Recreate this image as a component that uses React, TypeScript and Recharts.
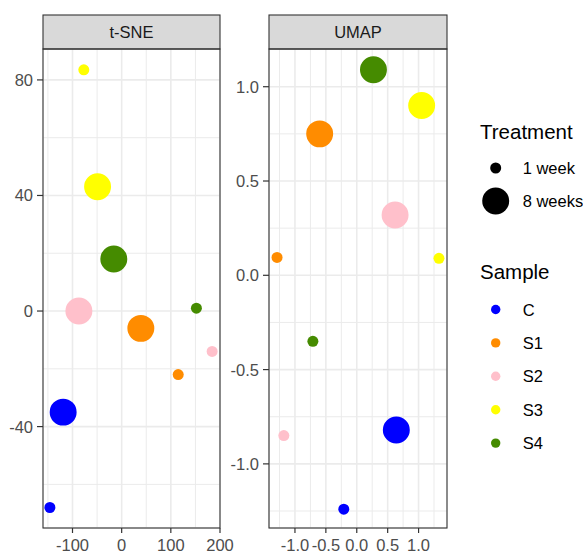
import React from "react";
import {CartesianGrid, Cell, Scatter, ScatterChart, XAxis, YAxis, ZAxis} from "recharts";

const samples = ['C', 'S1', 'S2', 'S3', 'S4'];
const treatments = ['1 week', '8 weeks'];
const treatmentWeeks = [1, 8];

// coordinates per sample, in the order of `samples`
const tsneX1w = [-146, 115, 184, -77, 152];
const tsneY1w = [-68, -22, -14, 83.5, 1];
const tsneX8w = [-119, 39, -87, -49, -16];
const tsneY8w = [-35, -6, 0, 43, 18];

const umapX1w = [-0.21, -1.29, -1.18, 1.33, -0.71];
const umapY1w = [-1.24, 0.095, -0.85, 0.09, -0.35];
const umapX8w = [0.64, -0.6, 0.62, 1.05, 0.27];
const umapY8w = [-0.82, 0.75, 0.32, 0.9, 1.09];

// major + minor breaks (majors sit at odd positions)
const tsneXTicks = [-150, -100, -50, 0, 50, 100, 150, 200];
const tsneYTicks = [-60, -40, -20, 0, 20, 40, 60, 80];
const umapXTicks = [-1.25, -1, -0.75, -0.5, -0.25, 0, 0.25, 0.5, 0.75, 1, 1.25];
const umapYTicks = [-1.25, -1, -0.75, -0.5, -0.25, 0, 0.25, 0.5, 0.75, 1];

const COLORS: Record<string, string> = {
    C: '#0000FF',
    S1: '#FF8C00',
    S2: '#FFC0CB',
    S3: '#FFFF00',
    S4: '#458B00',
};
const SIZE_RANGE = [95, 570];
const FONT = '"Liberation Sans", Arial, sans-serif';
const GRID = '#EBEBEB';

interface Pt {
    sample: string,
    x: number,
    y: number,
    w: number
}

const buildPoints = (x1: number[], y1: number[], x8: number[], y8: number[]): Pt[] => {
    const out: Pt[] = [];
    samples.forEach((s, i) => {
        out.push({sample: s, x: x1[i], y: y1[i], w: treatmentWeeks[0]});
        out.push({sample: s, x: x8[i], y: y8[i], w: treatmentWeeks[1]});
    });
    return out;
};

const tsneData = buildPoints(tsneX1w, tsneY1w, tsneX8w, tsneY8w);
const umapData = buildPoints(umapX1w, umapY1w, umapX8w, umapY8w);

const isMajor = (i: number) => i % 2 === 1;

// @ts-ignore
const gridLine = (props) => {
    const {x1, y1, x2, y2, index, key} = props;
    return <line key={key} x1={x1} y1={y1} x2={x2} y2={y2} stroke={GRID}
                 strokeWidth={isMajor(index) ? 1.6 : 1} fill="none"/>;
};

const makeYTick = (ticks: number[], fmt: (v: number) => string) => (props: any) => {
    const {x, y, payload} = props;
    const i = ticks.indexOf(payload.value);
    if (!isMajor(i)) return <g/>;
    return (
        <g>
            <line x1={x - 6} x2={x} y1={y} y2={y} stroke="#333333" strokeWidth={1.2}/>
            <text x={x - 10} y={y} textAnchor="end" dominantBaseline="central" fill="#4D4D4D"
                  fontSize={16.5} fontFamily={FONT}>{fmt(payload.value)}</text>
        </g>
    );
};

const makeXTick = (ticks: number[], fmt: (v: number) => string) => (props: any) => {
    const {x, y, payload} = props;
    const i = ticks.indexOf(payload.value);
    if (!isMajor(i)) return <g/>;
    return (
        <g>
            <line x1={x} x2={x} y1={y} y2={y + 5} stroke="#333333" strokeWidth={1.2}/>
            <text x={x} y={y + 22.5} textAnchor="middle" fill="#4D4D4D"
                  fontSize={16.5} fontFamily={FONT}>{fmt(payload.value)}</text>
        </g>
    );
};

interface PanelProps {
    data: Pt[],
    width: number,
    rightMargin: number,
    yAxisWidth: number,
    xDomain: number[],
    yDomain: number[],
    xTicks: number[],
    yTicks: number[],
    fmt: (v: number) => string
}

const Panel = ({data, width, rightMargin, yAxisWidth, xDomain, yDomain, xTicks, yTicks, fmt}: PanelProps) => (
    <ScatterChart width={width} height={552} margin={{top: 49, right: rightMargin, bottom: 0, left: 0}}>
        <CartesianGrid horizontal={gridLine} vertical={gridLine}/>
        <XAxis type="number" dataKey="x" domain={xDomain} ticks={xTicks} interval={0}
               allowDataOverflow height={24} axisLine={false} tickLine={false}
               tickSize={0} tickMargin={0} tick={makeXTick(xTicks, fmt)}/>
        <YAxis type="number" dataKey="y" domain={yDomain} ticks={yTicks} interval={0}
               allowDataOverflow width={yAxisWidth} axisLine={false} tickLine={false}
               tickSize={0} tickMargin={0} tick={makeYTick(yTicks, fmt)}/>
        <ZAxis type="number" dataKey="w" domain={[1, 8]} range={SIZE_RANGE}/>
        <Scatter data={data} isAnimationActive={false}>
            {data.map((p, i) => <Cell key={i} fill={COLORS[p.sample]}/>)}
        </Scatter>
    </ScatterChart>
);

const radius = (area: number) => Math.sqrt(area / Math.PI);

const Overlay = () => (
    <svg width={583} height={552} style={{position: 'absolute', left: 0, top: 0, pointerEvents: 'none'}}
         fontFamily={FONT}>
        {/* strips */}
        <rect x={43} y={15} width={177} height={34} fill="#D9D9D9" stroke="#333333" strokeWidth={1.1}/>
        <text x={131.5} y={32} textAnchor="middle" dominantBaseline="central" fontSize={16.5}
              fill="#1A1A1A">t-SNE</text>
        <rect x={269} y={15} width={178} height={34} fill="#D9D9D9" stroke="#333333" strokeWidth={1.1}/>
        <text x={358} y={32} textAnchor="middle" dominantBaseline="central" fontSize={16.5}
              fill="#1A1A1A">UMAP</text>
        {/* panel borders */}
        <rect x={43} y={49} width={177} height={479} fill="none" stroke="#333333" strokeWidth={1.1}/>
        <rect x={269} y={49} width={178} height={479} fill="none" stroke="#333333" strokeWidth={1.1}/>

        {/* legends */}
        <text x={480} y={131} dominantBaseline="central" fontSize={20.5} fill="#000">Treatment</text>
        {treatments.map((t, i) => (
            <g key={t}>
                <circle cx={495.7} cy={168 + i * 33} r={radius(SIZE_RANGE[i])} fill="#000"/>
                <text x={522.7} y={168 + i * 33} dominantBaseline="central" fontSize={16.5}
                      fill="#000">{t}</text>
            </g>
        ))}
        <text x={480} y={271.5} dominantBaseline="central" fontSize={20.5} fill="#000">Sample</text>
        {samples.map((s, i) => (
            <g key={s}>
                <circle cx={495.7} cy={309.5 + i * 33.4} r={4.7} fill={COLORS[s]}/>
                <text x={522.7} y={309.5 + i * 33.4} dominantBaseline="central" fontSize={16.5}
                      fill="#000">{s}</text>
            </g>
        ))}
    </svg>
);

export default function App() {
    return (
        <div style={{
            position: 'absolute', left: 0, top: 0, width: 583, height: 552,
            overflow: 'hidden', background: '#fff'
        }}>
            <div style={{position: 'absolute', left: 0, top: 0}}>
                <Panel data={tsneData} width={240} rightMargin={20} yAxisWidth={43} xDomain={[-160, 200]}
                       yDomain={[-75.1, 90.7]} xTicks={tsneXTicks} yTicks={tsneYTicks}
                       fmt={(v) => String(v)}/>
            </div>
            <div style={{position: 'absolute', left: 222, top: 0}}>
                <Panel data={umapData} width={226} rightMargin={1} yAxisWidth={47} xDomain={[-1.42, 1.46]}
                       yDomain={[-1.34, 1.2]} xTicks={umapXTicks} yTicks={umapYTicks}
                       fmt={(v) => v.toFixed(1)}/>
            </div>
            <Overlay/>
        </div>
    );
}
